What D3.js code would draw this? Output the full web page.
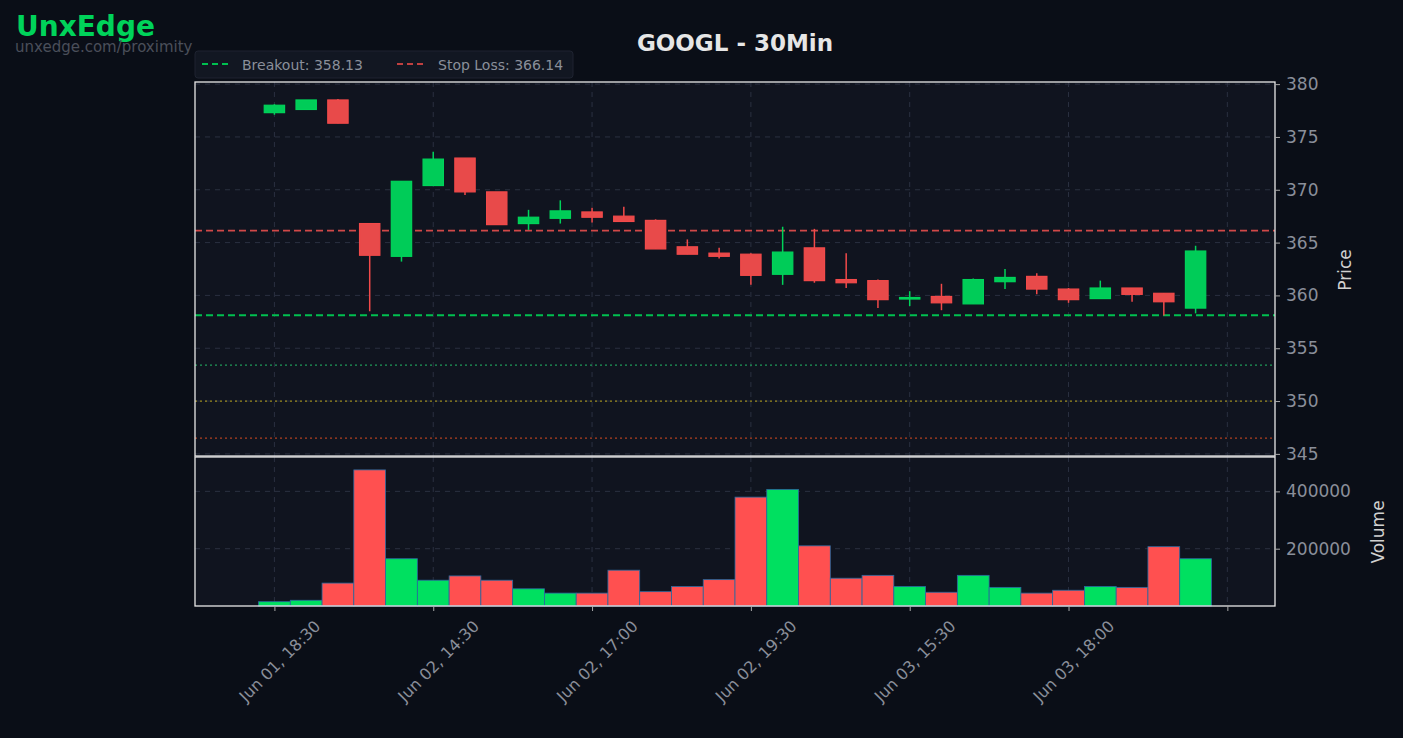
<!DOCTYPE html>
<html><head><meta charset="utf-8">
<script src="https://cdn.jsdelivr.net/npm/d3@7"></script>
<style>body{margin:0;background:#0a0e17;font-family:"DejaVu Sans",sans-serif}</style>
</head><body><svg width="1403" height="738"></svg>
<script>
var opens  = [377.3,377.6,378.5,366.8,363.7,370.4,373.0,369.8,366.8,367.3,367.9,367.5,367.1,364.6,364.0,363.9,362.0,364.5,361.5,361.4,359.7,359.9,359.2,361.3,361.8,360.6,359.7,360.7,360.2,358.8];
var highs  = [378.1,378.5,378.6,366.8,370.8,373.6,373.0,369.8,368.1,369.0,368.3,368.4,367.2,365.3,364.5,364.0,366.5,366.3,364.0,361.5,360.4,361.1,361.6,362.5,362.1,360.7,361.4,360.7,360.2,364.7];
var lows   = [377.1,377.6,376.3,358.5,363.2,370.4,369.5,366.7,366.2,366.8,366.9,367.0,364.4,363.9,363.5,361.0,361.0,361.2,360.7,358.8,359.0,358.6,359.2,360.6,360.1,359.3,359.7,359.4,358.1,358.3];
var closes = [378.0,378.5,376.3,363.8,370.8,372.9,369.8,366.7,367.4,368.0,367.4,367.0,364.4,363.9,363.7,361.9,364.1,361.4,361.2,359.6,359.8,359.3,361.5,361.7,360.6,359.6,360.7,360.1,359.4,364.2];
var volumes = [15000,20000,80000,475000,165000,90000,105000,90000,60000,45000,45000,125000,50000,68000,92000,380000,407000,210000,97000,107000,68000,48000,107000,65000,45000,55000,68000,65000,207000,165000];
var tickIdx = [0,5,10,15,20,25,30];
var tickLabels = ["Jun 01, 18:30","Jun 02, 14:30","Jun 02, 17:00","Jun 02, 19:30","Jun 03, 15:30","Jun 03, 18:00",""];
var priceTicks = [345,350,355,360,365,370,375,380];
var volTicks = [200000,400000];
var breakout = 358.13, stopLoss = 366.14;
var levels = [{v:353.4,c:"#1f9a5a"},{v:350.0,c:"#9a8a20"},{v:346.5,c:"#b04020"}];

var svg = d3.select("svg");
var L = 195, R = 1275, pT = 82, pB = 456, vT = 457, vB = 606;
var green = "#00d35a", red = "#f24a4a", gridC = "#2a3040", txt = "#8a8f9a";

var x = d3.scaleLinear().domain([-2.5, 31.5]).range([L, R]);
var y = d3.scaleLinear().domain([344.8, 380.2]).range([pB, pT]);
var yv = d3.scaleLinear().domain([0, 520000]).range([vB, vT]);
var bw = x(1) - x(0);

svg.append("text").attr("x",16).attr("y",36).attr("fill","#00d35a").attr("font-size",28).attr("font-weight","bold").text("UnxEdge");
svg.append("text").attr("x",15).attr("y",52).attr("fill","#4a4f5a").attr("font-size",15).text("unxedge.com/proximity");
svg.append("text").attr("x",735).attr("y",51).attr("text-anchor","middle").attr("fill","#e6e6e6").attr("font-size",23).attr("font-weight","bold").text("GOOGL - 30Min");

[[pT,pB],[vT,vB]].forEach(function(p){
  svg.append("rect").attr("x",L).attr("y",p[0]).attr("width",R-L).attr("height",p[1]-p[0]).attr("fill","#10141f");
});

// grid
var g = svg.append("g").attr("stroke",gridC).attr("stroke-dasharray","5,5");
priceTicks.forEach(function(t){ g.append("line").attr("x1",L).attr("x2",R).attr("y1",y(t)).attr("y2",y(t)); });
volTicks.forEach(function(t){ g.append("line").attr("x1",L).attr("x2",R).attr("y1",yv(t)).attr("y2",yv(t)); });
tickIdx.forEach(function(i){
  g.append("line").attr("x1",x(i)).attr("x2",x(i)).attr("y1",pT).attr("y2",pB);
  g.append("line").attr("x1",x(i)).attr("x2",x(i)).attr("y1",vT).attr("y2",vB);
});

levels.forEach(function(l){
  svg.append("line").attr("x1",L).attr("x2",R).attr("y1",y(l.v)).attr("y2",y(l.v)).attr("stroke",l.c).attr("stroke-width",1.3).attr("stroke-dasharray","2,3");
});
svg.append("line").attr("x1",L).attr("x2",R).attr("y1",y(stopLoss)).attr("y2",y(stopLoss)).attr("stroke","#d04848").attr("stroke-width",1.8).attr("stroke-dasharray","7,4");
svg.append("line").attr("x1",L).attr("x2",R).attr("y1",y(breakout)).attr("y2",y(breakout)).attr("stroke","#00c050").attr("stroke-width",2).attr("stroke-dasharray","7,4");

// candles
var idx = d3.range(opens.length);
var cg = svg.append("g");
idx.forEach(function(i){
  var up = closes[i] >= opens[i], c = up ? green : red;
  cg.append("line").attr("x1",x(i)).attr("x2",x(i)).attr("y1",y(highs[i])).attr("y2",y(lows[i])).attr("stroke",c).attr("stroke-width",1.5);
  var t = y(Math.max(opens[i],closes[i])), b = y(Math.min(opens[i],closes[i]));
  cg.append("rect").attr("x",x(i)-bw*0.32).attr("width",bw*0.64).attr("y",t).attr("height",Math.max(b-t,1.5))
    .attr("fill",up ? "#00cc58" : "#e84a4a").attr("stroke",c).attr("stroke-width",1.2);
});

// volume
svg.append("g").selectAll("rect").data(idx).enter().append("rect")
  .attr("x",function(i){return x(i)-bw/2;}).attr("width",bw)
  .attr("y",function(i){return yv(volumes[i]);}).attr("height",function(i){return vB-yv(volumes[i]);})
  .attr("fill",function(i){return closes[i]>=opens[i] ? "#00e060" : "#ff5050";})
  .attr("stroke","#2a6aa0").attr("stroke-width",0.8);

// frames
[[pT,pB],[vT,vB]].forEach(function(p){
  svg.append("rect").attr("x",L).attr("y",p[0]).attr("width",R-L).attr("height",p[1]-p[0]).attr("fill","none").attr("stroke","#e8e8e8").attr("stroke-width",1.3);
});

// axes
var pa = svg.append("g").attr("transform","translate("+R+",0)").call(d3.axisRight(y).tickValues(priceTicks).tickSize(5).tickPadding(6));
var va = svg.append("g").attr("transform","translate("+R+",0)").call(d3.axisRight(yv).tickValues(volTicks).tickSize(5).tickPadding(6).tickFormat(d3.format("d")));
var xa = svg.append("g").attr("transform","translate(0,"+vB+")").call(d3.axisBottom(x).tickValues(tickIdx).tickSize(5).tickFormat(function(d,i){return tickLabels[i];}));
[pa,va,xa].forEach(function(a){
  a.select(".domain").remove();
  a.selectAll("line").attr("stroke","#aaa");
  a.selectAll("text").attr("fill",txt).attr("font-size",17).attr("font-family","DejaVu Sans");
});
xa.selectAll("text").attr("font-size",16).attr("text-anchor","end").attr("dx","-0.3em").attr("dy","0.9em").attr("transform","translate(34,2) rotate(-45)");

svg.append("text").attr("transform","translate(1351,270) rotate(-90)").attr("text-anchor","middle").attr("fill","#d0d0d0").attr("font-size",17).text("Price");
svg.append("text").attr("transform","translate(1384,532) rotate(-90)").attr("text-anchor","middle").attr("fill","#d0d0d0").attr("font-size",17).text("Volume");

// legend
var lg = svg.append("g");
lg.append("rect").attr("x",195).attr("y",51).attr("width",378).attr("height",27).attr("rx",3).attr("fill","#121722").attr("stroke","#1e2330");
lg.append("line").attr("x1",202).attr("x2",230).attr("y1",64).attr("y2",64).attr("stroke","#00c050").attr("stroke-width",2).attr("stroke-dasharray","6,4");
lg.append("text").attr("x",242).attr("y",70).attr("fill",txt).attr("font-size",14).text("Breakout: " + breakout.toFixed(2));
lg.append("line").attr("x1",397).attr("x2",425).attr("y1",64).attr("y2",64).attr("stroke","#c04040").attr("stroke-width",2).attr("stroke-dasharray","6,4");
lg.append("text").attr("x",438).attr("y",70).attr("fill",txt).attr("font-size",14).text("Stop Loss: " + stopLoss.toFixed(2));
</script></body></html>
